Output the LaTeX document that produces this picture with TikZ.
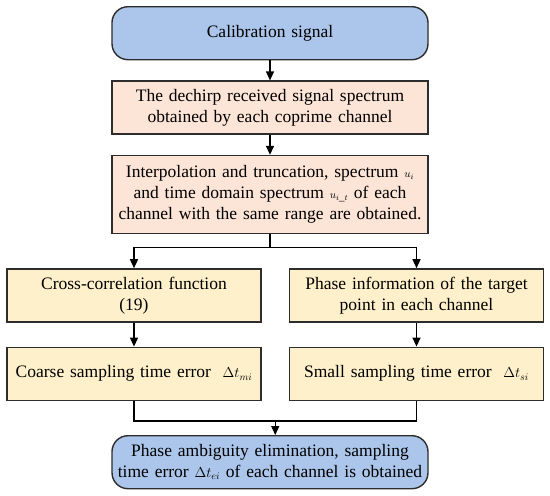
\documentclass[tikz,border=0pt]{standalone}
\usepackage{fontspec}
\setmainfont{Liberation Serif}
\usetikzlibrary{arrows.meta, positioning, calc}

\definecolor{startblue}{RGB}{171,198,234}
\definecolor{stepPeach}{RGB}{252,228,214}
\definecolor{stepYellow}{RGB}{254,240,202}
\definecolor{edgegray}{RGB}{45,45,45}

\newcommand{\smallmath}[1]{{\fontsize{11}{11}\selectfont$#1$}}
\newcommand{\deltamath}[1]{{\fontsize{14}{14}\selectfont$#1$}}

\begin{document}
\begin{tikzpicture}[
    x=1pt, y=1pt,
    font=\fontsize{17.5}{21}\selectfont,
    terminal/.style = {rectangle, draw=edgegray, fill=startblue, line width=1.4pt, text width=312pt, text centered, rounded corners=16pt, minimum width=316pt, minimum height=53pt, inner sep=0pt},
    peach_block/.style = {rectangle, draw=edgegray, fill=stepPeach, line width=1.4pt, text width=312pt, text centered, minimum width=316pt, minimum height=53pt, inner sep=0pt},
    yellow_block/.style = {rectangle, draw=edgegray, fill=stepYellow, line width=1.4pt, text width=250pt, text centered, minimum width=254pt, minimum height=53pt, inner sep=0pt},
    line/.style = {draw=black, line width=1.4pt, -{Triangle[length=9pt, width=8pt]}},
    plain_line/.style = {draw=black, line width=1.4pt}
]
\useasboundingbox (0,0) rectangle (550,-496);

% Nodes
\node [terminal, anchor=north] (calib) at (270,-6) {Calibration signal};
\node [peach_block, below=20pt of calib] (dechirp) {The dechirp received signal spectrum\\obtained by each coprime channel};
\node [peach_block, below=20pt of dechirp, minimum height=78pt] (interp) {Interpolation and truncation, spectrum \smallmath{u_i}\\and time domain spectrum \smallmath{u_{i\_t}} of each\\channel with the same range are obtained.};

% Left branch
\node [yellow_block, below=34pt of interp, xshift=-136pt] (crosscorr) {Cross-correlation function\\(19)};
\node [yellow_block, below=24pt of crosscorr] (coarse) {Coarse sampling time error\ \ \deltamath{\Delta t_{mi}}};

% Right branch
\node [yellow_block, below=34pt of interp, xshift=146.5pt] (phaseinfo) {Phase information of the target\\point in each channel};
\node [yellow_block, below=24pt of phaseinfo] (small) {Small sampling time error\ \ \deltamath{\Delta t_{si}}};

% Result
\node [terminal, anchor=north] (result) at (270,-435) {Phase ambiguity elimination, sampling\\time error \deltamath{\Delta t_{ei}} of each channel is obtained};

% Edges
\path [line] (calib) -- (dechirp);
\path [line] (dechirp) -- (interp);
\path [plain_line] (interp.south) -- ++(0,-13pt) coordinate (split);
\path [line] (split) -| (crosscorr.north);
\path [line] (split) -| (phaseinfo.north);

\path [line] (crosscorr) -- (coarse);
\path [line] (phaseinfo) -- (small);

\path [plain_line] (coarse.south) -- ++(0,-20pt) coordinate (join) -| (small.south);
\coordinate (joinmid) at ($(join)!0.5!(join -| small.south)$);
\path [line] (joinmid) -- (joinmid |- result.north);

\end{tikzpicture}
\end{document}
